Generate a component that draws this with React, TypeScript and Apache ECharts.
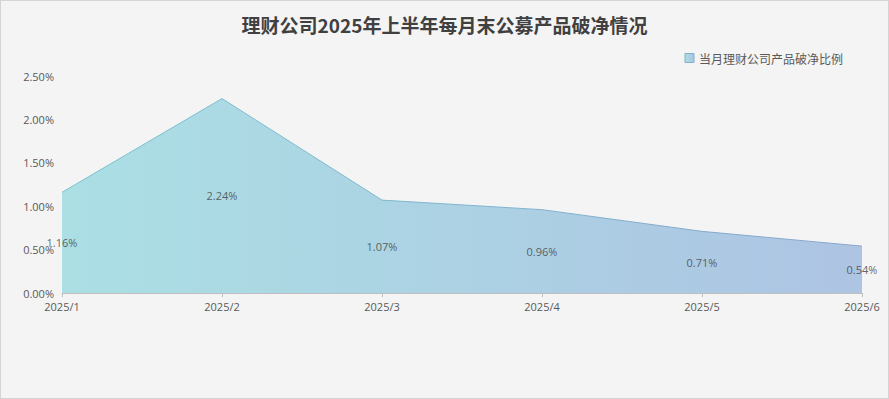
import React, { useEffect, useRef } from "react";
import * as echarts from "echarts";

const categories = ["2025/1", "2025/2", "2025/3", "2025/4", "2025/5", "2025/6"];
const ratios = [1.16, 2.24, 1.07, 0.96, 0.71, 0.54];
const seriesName = "当月理财公司产品破净比例";
const titleText = "理财公司2025年上半年每月末公募产品破净情况";

export default function App() {
  const ref = useRef<HTMLDivElement>(null);
  useEffect(() => {
    document.body.style.margin = "0";
    const chart = echarts.init(ref.current!, null, { renderer: "svg" });
    const fillGrad = new echarts.graphic.LinearGradient(0, 0, 1, 0, [
      { offset: 0, color: "#abdfe4" },
      { offset: 1, color: "#adc4e3" },
    ]);
    const lineGrad = new echarts.graphic.LinearGradient(0, 0, 1, 0, [
      { offset: 0, color: "#7cc3cc" },
      { offset: 1, color: "#86a5cf" },
    ]);
    chart.setOption({
      animation: false,
      backgroundColor: "#f4f4f4",
      title: {
        text: titleText,
        left: "center",
        top: 9,
        textStyle: {
          fontFamily: "Noto Sans CJK SC",
          fontSize: 19,
          fontWeight: "bold",
          color: "#404040",
        },
      },
      legend: {
        data: [{ name: seriesName, icon: "rect", itemStyle: { borderColor: "#7fb3c9", borderWidth: 1 } }],
        right: 40,
        top: 46,
        itemWidth: 9,
        itemHeight: 9,
        itemGap: 4,
        textStyle: { fontFamily: "Noto Sans CJK SC", fontSize: 12, color: "#595959" },
      },
      grid: { left: 61, right: 26, top: 75, bottom: 105, containLabel: false },
      xAxis: {
        type: "category",
        data: categories,
        boundaryGap: false,
        axisLine: { lineStyle: { color: "#bfbfbf" } },
        axisTick: { show: true, length: 4, lineStyle: { color: "#bfbfbf" } },
        axisLabel: {
          color: "#595959",
          fontSize: 11,
          fontFamily: "Open Sans",
          margin: 8,
          interval: 0,
        },
      },
      yAxis: {
        type: "value",
        min: 0,
        max: 2.5,
        interval: 0.5,
        splitLine: { show: false },
        axisLine: { show: false },
        axisTick: { show: false },
        axisLabel: {
          color: "#595959",
          fontSize: 11,
          fontFamily: "Open Sans",
          margin: 8,
          formatter: (v: number) => v.toFixed(2) + "%",
        },
      },
      series: [
        {
          name: seriesName,
          type: "line",
          data: ratios,
          symbol: "none",
          itemStyle: { color: fillGrad },
          lineStyle: { color: lineGrad, width: 1 },
          areaStyle: { color: fillGrad, opacity: 1 },
          z: 2,
        },
        {
          name: "labels",
          type: "scatter",
          data: ratios.map((v) => v / 2),
          symbolSize: 2,
          itemStyle: { color: "rgba(0,0,0,0)" },
          label: {
            show: true,
            position: "inside",
            color: "#404040",
            fontSize: 11,
            fontFamily: "Open Sans",
            formatter: (p: any) => ratios[p.dataIndex].toFixed(2) + "%",
          },
          tooltip: { show: false },
          z: 5,
        },
      ],
    });
    return () => chart.dispose();
  }, []);
  return (
    <div
      ref={ref}
      style={{ width: 887, height: 397, border: "1px solid #d4d4d4" }}
    />
  );
}
